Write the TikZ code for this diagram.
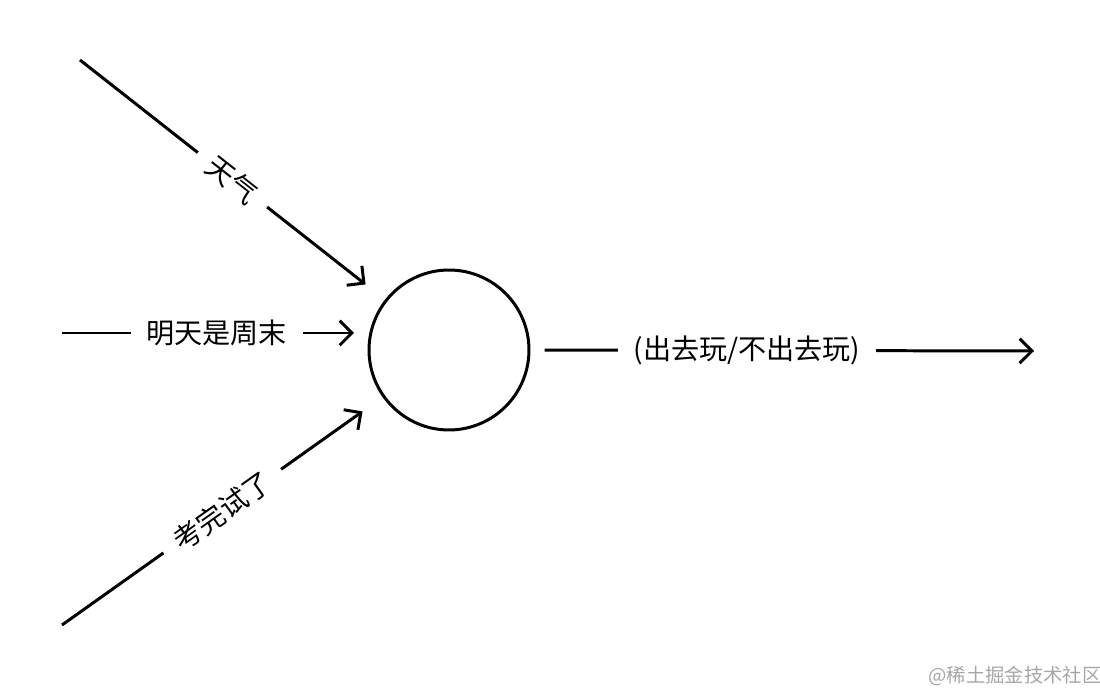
\documentclass[tikz,border=0pt]{standalone}
\usepackage{fontspec}
\setmainfont{Noto Sans CJK SC}
\usetikzlibrary{arrows.meta,positioning}
\tikzset{
  lbl/.style={fill=white,inner sep=9pt,font=\fontsize{16}{18}\selectfont},
  pfeil/.style={line width=1.7pt,-{Straight Barb[length=7pt,width=14pt,line width=1.7pt]}}
}
\begin{document}
\begin{tikzpicture}[x=0.02cm,y=-0.02cm]
\useasboundingbox (0,0) rectangle (1100,692);
\node[draw,circle,line width=1.7pt,minimum size=3.2cm] (neuron) at (449,350) {};
%Eingaenge
\coordinate (wetter) at (80,60);
\coordinate (wochenende) at (62,333);
\coordinate (wochenendeziel) at (354,333);
\coordinate (pruefung) at (62,625);
\coordinate (ausgang) at (1034,351);
\draw[pfeil,shorten >=14pt] (wetter) -- node[lbl,sloped] {天气} (neuron);
\draw[pfeil] (wochenende) -- node[lbl,pos=0.53] {明天是周末} (wochenendeziel);
\draw[pfeil,shorten >=14pt] (pruefung) -- node[lbl,sloped] {考完试了} (neuron);
\draw[pfeil,shorten <=8pt] (neuron.east) -- node[lbl,pos=0.43] {(出去玩/不出去玩)} (ausgang);
\node[text=gray!70,font=\fontsize{11}{13}\selectfont] (marke) at (1015,676) {@稀土掘金技术社区};
\end{tikzpicture}
\end{document}
